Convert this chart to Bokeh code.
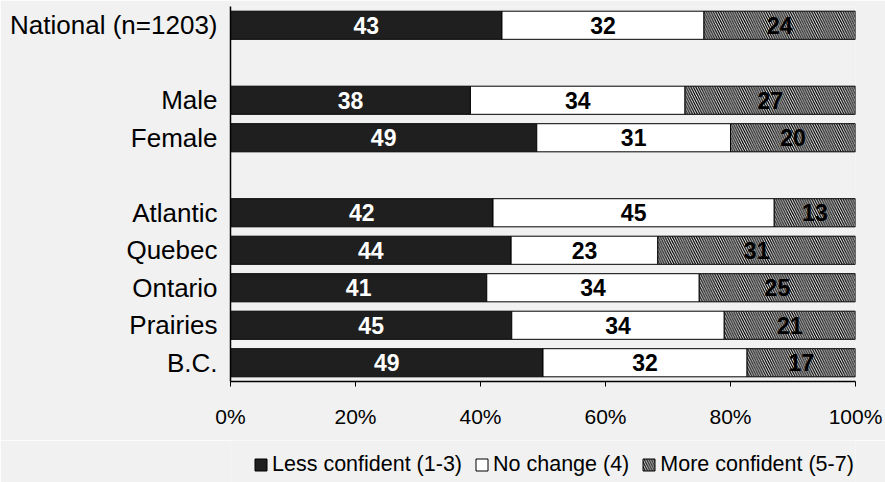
from bokeh.plotting import figure
from bokeh.layouts import column
from bokeh.models import (ColumnDataSource, FactorRange, FixedTicker, Legend,
                          LegendItem, Range1d)
from bokeh.core.properties import value
from bokeh.embed import file_html
from bokeh.resources import INLINE

# Survey results: share of respondents by confidence level
groups = ["National (n=1203)", "Male", "Female", "Atlantic", "Quebec",
          "Ontario", "Prairies", "B.C."]
less_confident = [43, 38, 49, 42, 44, 41, 45, 49]
no_change = [32, 34, 31, 45, 23, 34, 34, 32]
more_confident = [24, 27, 20, 13, 31, 25, 21, 17]
series_names = ["Less confident (1-3)", "No change (4)", "More confident (5-7)"]
tick_values = [0, 20, 40, 60, 80, 100]
tick_labels = ["0%", "20%", "40%", "60%", "80%", "100%"]

FONT = "Liberation Sans"
DARK = "#1f1f1f"
BG = "#f1f1f1"

# blank spacer rows separate the national total, gender and region blocks
rows = [groups[0], " ", groups[1], groups[2], "  "] + groups[3:]
y_factors = list(reversed(rows))

# each bar is scaled to 100% of its own total
series = [less_confident, no_change, more_confident]
totals = [sum(vals) for vals in zip(*series)]
lefts, rights = [], []
acc = [0.0] * len(groups)
for vals in series:
    share = [v / t * 100 for v, t in zip(vals, totals)]
    lefts.append(list(acc))
    acc = [a + s for a, s in zip(acc, share)]
    rights.append(list(acc))

p = figure(width=885, height=440, output_backend="svg", toolbar_location=None,
           y_range=FactorRange(factors=y_factors), x_range=Range1d(0, 100),
           min_border_left=230, min_border_right=30, min_border_top=6,
           min_border_bottom=59)
p.background_fill_color = BG
p.border_fill_color = BG
p.outline_line_color = None
p.xgrid.visible = False
p.ygrid.visible = False

styles = [
    dict(fill_color=DARK, line_color="black"),
    dict(fill_color="white", line_color="black"),
    dict(fill_color="white", line_color="black", hatch_pattern="\\",
         hatch_color="black", hatch_scale=4.8, hatch_weight=1.3),
]
text_colors = ["white", "black", "black"]

for i, name in enumerate(series_names):
    src = ColumnDataSource(dict(
        y=groups, left=lefts[i], right=rights[i],
        mid=[(l + r) / 2 for l, r in zip(lefts[i], rights[i])],
        txt=[str(v) for v in series[i]],
    ))
    p.hbar(y="y", left="left", right="right", height=0.75, source=src,
           line_width=1, **styles[i])
    p.text(x="mid", y="y", text="txt", source=src, text_align="center",
           text_baseline="middle", text_color=text_colors[i],
           text_font=value(FONT), text_font_style="bold",
           text_font_size="23px")

xa = p.xaxis[0]
xa.ticker = FixedTicker(ticks=tick_values)
xa.major_label_overrides = {v: s for v, s in zip(tick_values, tick_labels)}
xa.major_label_text_font = FONT
xa.major_label_text_font_size = "21px"
xa.major_label_text_color = "black"
xa.major_label_standoff = 18
xa.axis_line_color = "black"
xa.axis_line_width = 1.5
xa.major_tick_line_color = "black"
xa.major_tick_in = 0
xa.major_tick_out = 5
xa.minor_tick_line_color = None

ya = p.yaxis[0]
ya.major_label_text_font = FONT
ya.major_label_text_font_size = "26px"
ya.major_label_text_color = "black"
ya.major_label_standoff = 7
ya.axis_line_color = "black"
ya.axis_line_width = 1.5
ya.major_tick_line_color = None
ya.minor_tick_line_color = None

# legend strip under the chart; its swatches are hidden renderers that carry
# the same fill/hatch styles as the bar segments
key = figure(width=885, height=42, output_backend="svg", toolbar_location=None,
             x_range=Range1d(0, 100), y_range=Range1d(0, 1),
             x_axis_type=None, y_axis_type=None,
             min_border_left=0, min_border_right=0, min_border_top=0,
             min_border_bottom=0)
key.background_fill_color = BG
key.border_fill_color = BG
key.outline_line_color = None
key.xgrid.visible = False
key.ygrid.visible = False

swatches = []
for i, name in enumerate(series_names):
    one = ColumnDataSource(dict(y=[0.5], left=[lefts[i][0]], right=[rights[i][0]]))
    r = key.hbar(y="y", left="left", right="right", height=1, source=one,
                 line_width=1, **styles[i])
    r.visible = False
    swatches.append(r)

legend = Legend(
    items=[LegendItem(label=n, renderers=[r]) for n, r in zip(series_names, swatches)],
    orientation="horizontal", location=(23, 5),
    label_text_font=FONT, label_text_font_size="21.5px", label_text_color="black",
    glyph_width=15, glyph_height=15, label_standoff=4, spacing=12,
    padding=0, margin=0, border_line_color=None, background_fill_alpha=0,
    inactive_fill_alpha=0,
)
key.add_layout(legend)

page = column(p, key, spacing=0)
open("out.html", "w").write(file_html(page, INLINE))
